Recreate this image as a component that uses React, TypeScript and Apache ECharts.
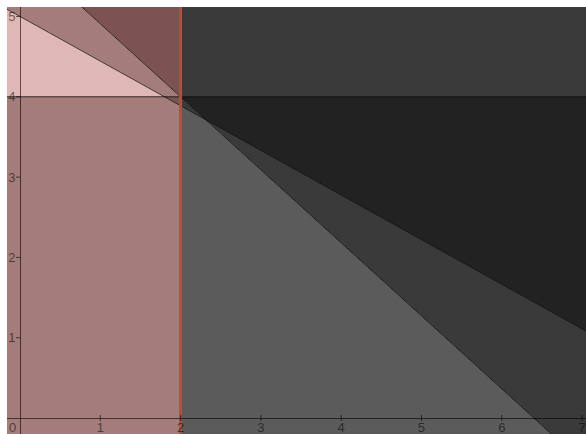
import React, { useEffect, useRef } from "react";
import * as echarts from "echarts";

// visible data window
const xRange = [-0.162, 7.049];
const yRange = [-0.199, 5.118];

// tick positions / labels
const xTicks = [1, 2, 3, 4, 5, 6, 7];
const xLabelValues = [0, 1, 2, 3, 4, 5, 6, 7];
const yTicks = [1, 2, 3, 4, 5];

// boundary lines, each given by two points
const lineX2 = [[2, 0], [2, 4]]; // x = 2
const lineY4 = [[0, 4], [7, 4]]; // y = 4
const lineA = [[0, 5], [7, 1.11]];
const lineB = [[2, 4], [6.4, 0]];

// fill colours by number of overlapping shaded half-planes
const leftColors = ["#dfb7b5", "#a47d7b", "#7c5351", "#5c3a39"];
const rightColors = ["#9b9b9b", "#5b5b5b", "#3a3a3a", "#222222"];

type Pt = number[];

function coef(l: Pt[]) {
  const [x1, y1] = l[0];
  const [x2, y2] = l[1];
  const a = y2 - y1;
  const b = x1 - x2;
  const c = a * x1 + b * y1;
  return (p: Pt) => a * p[0] + b * p[1] - c;
}

function clip(poly: Pt[], f: (p: Pt) => number, s: number): Pt[] {
  const out: Pt[] = [];
  for (let i = 0; i < poly.length; i++) {
    const p = poly[i];
    const q = poly[(i + 1) % poly.length];
    const fp = f(p) * s;
    const fq = f(q) * s;
    if (fp >= 0) out.push(p);
    if ((fp >= 0 && fq < 0) || (fp < 0 && fq >= 0)) {
      const t = fp / (fp - fq);
      out.push([p[0] + t * (q[0] - p[0]), p[1] + t * (q[1] - p[1])]);
    }
  }
  return out;
}

function area(poly: Pt[]) {
  let s = 0;
  for (let i = 0; i < poly.length; i++) {
    const p = poly[i];
    const q = poly[(i + 1) % poly.length];
    s += p[0] * q[1] - q[0] * p[1];
  }
  return Math.abs(s) / 2;
}

function buildCells() {
  const fV = coef(lineX2);
  const fH = coef(lineY4);
  const fA = coef(lineA);
  const fB = coef(lineB);
  const fs = [fV, fH, fA, fB];
  const rect: Pt[] = [
    [xRange[0], yRange[0]],
    [xRange[1], yRange[0]],
    [xRange[1], yRange[1]],
    [xRange[0], yRange[1]],
  ];
  const leftSign = Math.sign(fV([-100, 0]));
  const belowH = Math.sign(fH([0, -100]));
  const aboveA = Math.sign(fA([0, 100]));
  const aboveB = Math.sign(fB([0, 100]));
  const cells: { pts: Pt[]; color: string; c: Pt }[] = [];
  for (let m = 0; m < 16; m++) {
    let poly = rect;
    for (let k = 0; k < 4; k++) {
      const s = (m >> k) & 1 ? 1 : -1;
      poly = clip(poly, fs[k], s);
      if (poly.length < 3) break;
    }
    if (poly.length < 3 || area(poly) < 1e-6) continue;
    const c = [
      poly.reduce((s, p) => s + p[0], 0) / poly.length,
      poly.reduce((s, p) => s + p[1], 0) / poly.length,
    ];
    const isLeft = Math.sign(fV(c)) === leftSign;
    const n =
      (Math.sign(fH(c)) === belowH ? 1 : 0) +
      (Math.sign(fA(c)) === aboveA ? 1 : 0) +
      (Math.sign(fB(c)) === aboveB ? 1 : 0);
    cells.push({ pts: poly, color: isLeft ? leftColors[n] : rightColors[n], c });
  }
  return cells;
}

function extend(l: Pt[]): Pt[] {
  const [x1, y1] = l[0];
  const [x2, y2] = l[1];
  if (Math.abs(x2 - x1) < 1e-9) {
    return [
      [x1, yRange[0] - 1],
      [x1, yRange[1] + 1],
    ];
  }
  const k = (y2 - y1) / (x2 - x1);
  const xa = xRange[0] - 1;
  const xb = xRange[1] + 1;
  return [
    [xa, y1 + k * (xa - x1)],
    [xb, y1 + k * (xb - x1)],
  ];
}

const FONT = "'Liberation Sans', Arial, sans-serif";
const TEXT = "rgba(0,0,0,0.55)";
const AXIS = "rgba(0,0,0,0.6)";

export default function App() {
  const ref = useRef<HTMLDivElement>(null);
  useEffect(() => {
    if (!ref.current) return;
    const chart = echarts.init(ref.current, undefined, { renderer: "svg" });
    const cells = buildCells();
    const lineSeries = (l: Pt[], color: string, width: number) => ({
      type: "line",
      data: extend(l),
      symbol: "none",
      silent: true,
      z: 3,
      lineStyle: { color, width },
      clip: true,
    });
    chart.setOption({
      animation: false,
      grid: {
        left: 0,
        right: 0,
        top: 0,
        bottom: 0,
        containLabel: false,
        outerBoundsMode: "none",
      },
      xAxis: {
        type: "value",
        min: xRange[0],
        max: xRange[1],
        z: 5,
        splitLine: { show: false },
        axisLine: { onZero: true, lineStyle: { color: AXIS, width: 1 } },
        axisTick: { show: false },
        axisLabel: { show: false },
      },
      yAxis: {
        type: "value",
        min: yRange[0],
        max: yRange[1],
        z: 5,
        splitLine: { show: false },
        axisLine: { onZero: true, lineStyle: { color: AXIS, width: 1 } },
        axisTick: { show: false },
        axisLabel: { show: false },
      },
      series: [
        {
          type: "custom",
          coordinateSystem: "cartesian2d",
          silent: true,
          z: 1,
          clip: true,
          data: cells.map((c) => c.c),
          renderItem: (params: any, api: any) => {
            const cell = cells[params.dataIndex];
            return {
              type: "polygon",
              shape: { points: cell.pts.map((p) => api.coord(p)) },
              style: { fill: cell.color, stroke: cell.color, lineWidth: 0.5 },
            };
          },
        },
        lineSeries(lineA, "rgba(0,0,0,0.7)", 1),
        lineSeries(lineB, "rgba(0,0,0,0.7)", 1),
        lineSeries(lineY4, "rgba(0,0,0,0.7)", 1),
        lineSeries(lineX2, "#b84a42", 3),
        {
          type: "custom",
          coordinateSystem: "cartesian2d",
          silent: true,
          z: 6,
          data: [
            ...xTicks.map((t) => [t, 0, 0]),
            ...yTicks.map((t) => [0, t, 1]),
          ],
          renderItem: (params: any, api: any) => {
            const p = api.coord([api.value(0), api.value(1)]);
            const isY = api.value(2) === 1;
            const shape = isY
              ? { x1: p[0] - 4, y1: p[1], x2: p[0], y2: p[1] }
              : { x1: p[0], y1: p[1] - 3, x2: p[0], y2: p[1] + 3 };
            return {
              type: "line",
              shape,
              style: { stroke: AXIS, lineWidth: 1 },
            };
          },
        },
        {
          type: "custom",
          coordinateSystem: "cartesian2d",
          silent: true,
          z: 7,
          clip: false,
          data: [
            ...xLabelValues.map((t) => [t, 0, 0]),
            ...yTicks.map((t) => [0, t, 1]),
          ],
          renderItem: (params: any, api: any) => {
            const v0 = api.value(0);
            const v1 = api.value(1);
            const p = api.coord([v0, v1]);
            const isY = api.value(2) === 1;
            if (isY) {
              return {
                type: "text",
                x: p[0] - 4.5,
                y: p[1],
                style: {
                  text: String(v1),
                  fill: TEXT,
                  font: `13px ${FONT}`,
                  align: "right",
                  verticalAlign: "middle",
                },
              };
            }
            return {
              type: "text",
              x: v0 === 0 ? p[0] - 7.5 : p[0],
              y: p[1] + 9,
              style: {
                text: String(v0),
                fill: TEXT,
                font: `13px ${FONT}`,
                align: "center",
                verticalAlign: "middle",
              },
            };
          },
        },
      ],
    });
    return () => chart.dispose();
  }, []);
  return (
    <div
      ref={ref}
      style={{ position: "absolute", left: 7, top: 7, width: 579, height: 427 }}
    />
  );
}
